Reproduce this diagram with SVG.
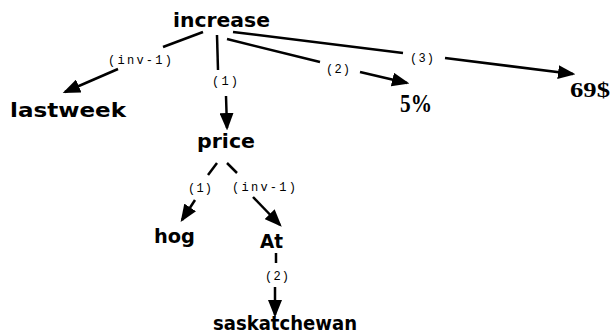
<svg xmlns="http://www.w3.org/2000/svg" width="611" height="333" viewBox="0 0 611 333">
<style>
.n{font-family:"DejaVu Sans","Liberation Sans",sans-serif;font-weight:bold;fill:#000}
.s{font-family:"Liberation Serif",serif;font-weight:bold;fill:#000}
.l{font-family:"Liberation Mono",monospace;font-size:12px;fill:#000}
.e{stroke:#000;stroke-width:2.5;fill:none}
</style>
<defs>
<marker id="ah" markerWidth="7" markerHeight="5.6" refX="6" refY="2.8" orient="auto" markerUnits="strokeWidth">
<path d="M0,0 L7,2.8 L0,5.6 Z" fill="#000"/>
</marker>
</defs>
<rect width="611" height="333" fill="#fff"/>
<g id="connectors">
<line class="e" x1="203" y1="32" x2="163" y2="47"/>
<line class="e" x1="118" y1="69" x2="65" y2="92" marker-end="url(#ah)"/>
<text class="l" x="108" y="64" textLength="64" lengthAdjust="spacing">(inv-1)</text>
<line class="e" x1="217" y1="35" x2="218" y2="70"/>
<line class="e" x1="226" y1="96" x2="227" y2="128" marker-end="url(#ah)"/>
<text class="l" x="212" y="85" textLength="26" lengthAdjust="spacing">(1)</text>
<line class="e" x1="227" y1="39" x2="320" y2="62"/>
<line class="e" x1="360" y1="72" x2="407" y2="83" marker-end="url(#ah)"/>
<text class="l" x="326" y="73" textLength="24" lengthAdjust="spacing">(2)</text>
<line class="e" x1="233" y1="32" x2="403" y2="53"/>
<line class="e" x1="445" y1="58" x2="573" y2="74" marker-end="url(#ah)"/>
<text class="l" x="410" y="62" textLength="24" lengthAdjust="spacing">(3)</text>
<line class="e" x1="217" y1="163" x2="208" y2="175"/>
<line class="e" x1="195" y1="200" x2="182" y2="220" marker-end="url(#ah)"/>
<text class="l" x="188" y="192" textLength="24" lengthAdjust="spacing">(1)</text>
<line class="e" x1="227" y1="163" x2="237" y2="173"/>
<line class="e" x1="253" y1="197" x2="280" y2="225" marker-end="url(#ah)"/>
<text class="l" x="232" y="191" textLength="64" lengthAdjust="spacing">(inv-1)</text>
<line class="e" x1="276" y1="253" x2="276" y2="263"/>
<line class="e" x1="275" y1="287" x2="275" y2="315" marker-end="url(#ah)"/>
<text class="l" x="265" y="280" textLength="24" lengthAdjust="spacing">(2)</text>
</g>
<g id="increase"><text class="n" x="173" y="27" font-size="20" textLength="97" lengthAdjust="spacingAndGlyphs">increase</text></g>
<g id="lastweek"><text class="n" x="10" y="117" font-size="19" textLength="116" lengthAdjust="spacingAndGlyphs">lastweek</text></g>
<g id="price"><text class="n" x="197" y="148" font-size="19" textLength="58" lengthAdjust="spacingAndGlyphs">price</text></g>
<g id="hog"><text class="n" x="154" y="243" font-size="19" textLength="41" lengthAdjust="spacingAndGlyphs">hog</text></g>
<g id="At"><text class="n" x="260" y="248" font-size="19" textLength="23" lengthAdjust="spacingAndGlyphs">At</text></g>
<g id="saskatchewan"><text class="n" x="213" y="330" font-size="19" textLength="144" lengthAdjust="spacingAndGlyphs">saskatchewan</text></g>
<g id="pct"><text class="s" x="400" y="112" font-size="25" textLength="32" lengthAdjust="spacingAndGlyphs">5%</text></g>
<g id="dollars"><text class="s" x="570" y="97" font-size="20" textLength="40" lengthAdjust="spacingAndGlyphs">69$</text></g>
</svg>
